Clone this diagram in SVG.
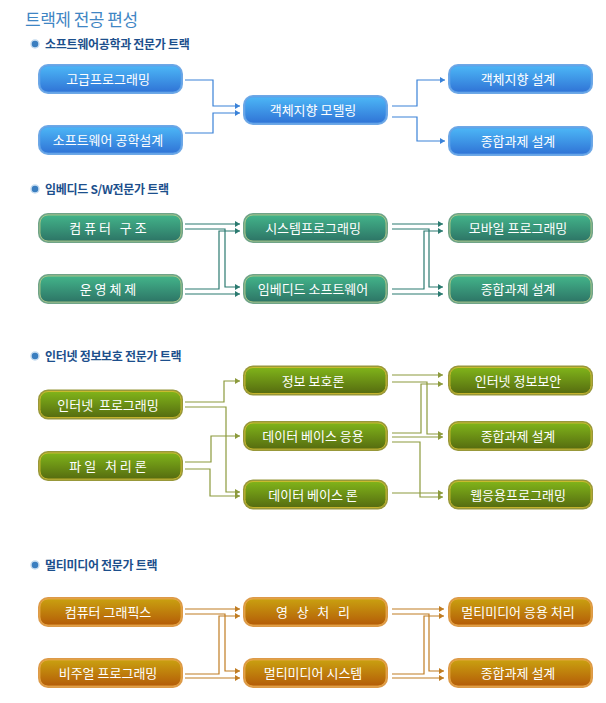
<svg xmlns="http://www.w3.org/2000/svg" width="606" height="703" viewBox="0 0 606 703">
<style>
.t{font-family:"Noto Sans CJK KR","Noto Sans",sans-serif;font-size:13px;fill:#ffffff;text-anchor:middle;white-space:pre}
.h{font-family:"Noto Sans CJK KR","Noto Sans",sans-serif;font-size:12px;font-weight:bold;letter-spacing:-0.3px}
.c{fill:none;stroke-width:1.2}
.cb{stroke:#3a82d8}
.cg{stroke:#2b7a70}
.co{stroke:#8c9a3c}
.cr{stroke:#c07c22}
</style>
<defs>
<linearGradient id="gb" x1="0" y1="0" x2="0" y2="1"><stop offset="0" stop-color="#4cb6f6"/><stop offset="1" stop-color="#3074d6"/></linearGradient>
<linearGradient id="gg" x1="0" y1="0" x2="0" y2="1"><stop offset="0" stop-color="#43b48a"/><stop offset="1" stop-color="#2d7566"/></linearGradient>
<linearGradient id="go" x1="0" y1="0" x2="0" y2="1"><stop offset="0" stop-color="#80b41a"/><stop offset="1" stop-color="#566c10"/></linearGradient>
<linearGradient id="gr" x1="0" y1="0" x2="0" y2="1"><stop offset="0" stop-color="#c9a010"/><stop offset="1" stop-color="#b45c08"/></linearGradient>
<marker id="ab" markerWidth="6" markerHeight="6" refX="5" refY="3" orient="auto" markerUnits="userSpaceOnUse"><path d="M0,0 L5,3 L0,6 z" fill="#3a82d8"/></marker>
<marker id="ag" markerWidth="6" markerHeight="6" refX="5" refY="3" orient="auto" markerUnits="userSpaceOnUse"><path d="M0,0 L5,3 L0,6 z" fill="#2b7a70"/></marker>
<marker id="ao" markerWidth="6" markerHeight="6" refX="5" refY="3" orient="auto" markerUnits="userSpaceOnUse"><path d="M0,0 L5,3 L0,6 z" fill="#8c9a3c"/></marker>
<marker id="ar" markerWidth="6" markerHeight="6" refX="5" refY="3" orient="auto" markerUnits="userSpaceOnUse"><path d="M0,0 L5,3 L0,6 z" fill="#c07c22"/></marker>
<symbol id="btnb" viewBox="0 0 145 30" overflow="visible"><rect x="0" y="0" width="145" height="30" rx="10" fill="#6ea8e6"/><rect x="2" y="2" width="141" height="26" rx="8" fill="url(#gb)" stroke="#5aa0e8" stroke-width="0.8"/></symbol>
<symbol id="btng" viewBox="0 0 145 30" overflow="visible"><rect x="0" y="0" width="145" height="30" rx="10" fill="#6fa488"/><rect x="2" y="2" width="141" height="26" rx="8" fill="url(#gg)" stroke="#b8cc88" stroke-width="0.8"/></symbol>
<symbol id="btno" viewBox="0 0 145 30" overflow="visible"><rect x="0" y="0" width="145" height="30" rx="10" fill="#98983a"/><rect x="2" y="2" width="141" height="26" rx="8" fill="url(#go)" stroke="#d8c030" stroke-width="0.8"/></symbol>
<symbol id="btnr" viewBox="0 0 145 30" overflow="visible"><rect x="0" y="0" width="145" height="30" rx="10" fill="#dc9a48"/><rect x="2" y="2" width="141" height="26" rx="8" fill="url(#gr)" stroke="#eaa848" stroke-width="0.8"/></symbol>
</defs>
<rect width="606" height="703" fill="#ffffff"/>
<text x="25" y="26" font-family="'Noto Sans CJK KR','Noto Sans',sans-serif" font-size="17" letter-spacing="-0.5" fill="#3f86c4">트랙제 전공 편성</text>

<g id="headers">
<circle cx="35" cy="44" r="4" fill="#3a7ec0" stroke="#c6dcf0" stroke-width="1.5"/>
<text class="h" x="45" y="48.5" fill="#1c4f8c">소프트웨어공학과 전문가 트랙</text>
<circle cx="35" cy="189" r="4" fill="#3a7ec0" stroke="#c6dcf0" stroke-width="1.5"/>
<text class="h" x="45" y="193.5" fill="#1c4f8c">임베디드 S/W전문가 트랙</text>
<circle cx="35" cy="356" r="4" fill="#3a7ec0" stroke="#c6dcf0" stroke-width="1.5"/>
<text class="h" x="45" y="360.5" fill="#1c4f8c">인터넷 정보보호 전문가 트랙</text>
<circle cx="35" cy="565" r="4" fill="#3a7ec0" stroke="#c6dcf0" stroke-width="1.5"/>
<text class="h" x="45" y="569.5" fill="#1c4f8c">멀티미디어 전문가 트랙</text>
</g>

<g id="connectors">
<g class="c cb">
<path d="M185,80 H213 V106 H240" marker-end="url(#ab)"/>
<path d="M185,133 H213 V113 H240" marker-end="url(#ab)"/>
<path d="M392,106 H417 V80 H445" marker-end="url(#ab)"/>
<path d="M392,117 H417 V141 H445" marker-end="url(#ab)"/>
</g>
<g class="c cg">
<path d="M185,224 H240" marker-end="url(#ag)"/>
<path d="M185,229 H225 V287 H240" marker-end="url(#ag)"/>
<path d="M185,289 H219 V231 H240" marker-end="url(#ag)"/>
<path d="M185,294 H240" marker-end="url(#ag)"/>
<path d="M392,224 H443" marker-end="url(#ag)"/>
<path d="M392,229 H429 V287 H443" marker-end="url(#ag)"/>
<path d="M392,289 H424 V231 H443" marker-end="url(#ag)"/>
<path d="M392,294 H443" marker-end="url(#ag)"/>
</g>
<g class="c co">
<path d="M185,402 H224 V381 H240" marker-end="url(#ao)"/>
<path d="M185,407 H226 V492 H240" marker-end="url(#ao)"/>
<path d="M185,462 H211 V436 H240" marker-end="url(#ao)"/>
<path d="M185,469 H210 V496 H240" marker-end="url(#ao)"/>
<path d="M392,375 H443" marker-end="url(#ao)"/>
<path d="M392,382 H427 V434 H443" marker-end="url(#ao)"/>
<path d="M392,433 H421 V384 H443" marker-end="url(#ao)"/>
<path d="M392,437 H443" marker-end="url(#ao)"/>
<path d="M392,442 H420 V497 H443" marker-end="url(#ao)"/>
<path d="M392,493 H443" marker-end="url(#ao)"/>
</g>
<g class="c cr">
<path d="M185,609 H240" marker-end="url(#ar)"/>
<path d="M185,614 H225 V671 H240" marker-end="url(#ar)"/>
<path d="M185,674 H219 V616 H240" marker-end="url(#ar)"/>
<path d="M185,678 H240" marker-end="url(#ar)"/>
<path d="M392,609 H444" marker-end="url(#ar)"/>
<path d="M392,614 H429 V671 H444" marker-end="url(#ar)"/>
<path d="M392,674 H424 V616 H444" marker-end="url(#ar)"/>
<path d="M392,678 H444" marker-end="url(#ar)"/>
</g>
</g>

<g id="n-sw1"><use href="#btnb" x="38" y="64" width="145" height="30"/><text class="t" x="108" y="83.5">고급프로그래밍</text></g>
<g id="n-sw2"><use href="#btnb" x="38" y="125" width="145" height="30"/><text class="t" x="108" y="144.5">소프트웨어 공학설계</text></g>
<g id="n-sw3"><use href="#btnb" x="243" y="95" width="145" height="30"/><text class="t" x="313" y="114.5">객체지향 모델링</text></g>
<g id="n-sw4"><use href="#btnb" x="448" y="64" width="145" height="30"/><text class="t" x="518" y="83.5">객체지향 설계</text></g>
<g id="n-sw5"><use href="#btnb" x="448" y="126" width="145" height="30"/><text class="t" x="518" y="145.5">종합과제 설계</text></g>

<g id="n-em1"><use href="#btng" x="38" y="213" width="145" height="30"/><text class="t" x="108" y="232.5">컴 퓨 터   구 조</text></g>
<g id="n-em2"><use href="#btng" x="38" y="274" width="145" height="30"/><text class="t" x="108" y="293.5">운 영 체 제</text></g>
<g id="n-em3"><use href="#btng" x="243" y="213" width="145" height="30"/><text class="t" x="313" y="232.5">시스템프로그래밍</text></g>
<g id="n-em4"><use href="#btng" x="243" y="274" width="145" height="30"/><text class="t" x="313" y="293.5">임베디드 소프트웨어</text></g>
<g id="n-em5"><use href="#btng" x="448" y="213" width="145" height="30"/><text class="t" x="518" y="232.5">모바일 프로그래밍</text></g>
<g id="n-em6"><use href="#btng" x="448" y="274" width="145" height="30"/><text class="t" x="518" y="293.5">종합과제 설계</text></g>

<g id="n-in1"><use href="#btno" x="38" y="389" width="145" height="31"/><text class="t" x="108" y="409.5">인터넷  프로그래밍</text></g>
<g id="n-in2"><use href="#btno" x="38" y="451" width="145" height="30"/><text class="t" x="108" y="470.5">파 일   처 리 론</text></g>
<g id="n-in3"><use href="#btno" x="243" y="365" width="145" height="31"/><text class="t" x="313" y="385.5">정보 보호론</text></g>
<g id="n-in4"><use href="#btno" x="243" y="421" width="145" height="30"/><text class="t" x="313" y="440.5">데이터 베이스 응용</text></g>
<g id="n-in5"><use href="#btno" x="243" y="479" width="145" height="31"/><text class="t" x="313" y="499.5">데이터 베이스 론</text></g>
<g id="n-in6"><use href="#btno" x="448" y="365" width="145" height="31"/><text class="t" x="518" y="385.5">인터넷 정보보안</text></g>
<g id="n-in7"><use href="#btno" x="448" y="421" width="145" height="30"/><text class="t" x="518" y="440.5">종합과제 설계</text></g>
<g id="n-in8"><use href="#btno" x="448" y="479" width="145" height="31"/><text class="t" x="518" y="499.5">웹응용프로그래밍</text></g>

<g id="n-mm1"><use href="#btnr" x="38" y="597" width="145" height="30"/><text class="t" x="108" y="616.5">컴퓨터 그래픽스</text></g>
<g id="n-mm2"><use href="#btnr" x="38" y="658" width="145" height="30"/><text class="t" x="108" y="677.5">비주얼 프로그래밍</text></g>
<g id="n-mm3"><use href="#btnr" x="243" y="597" width="145" height="30"/><text class="t" x="313" y="616.5">영   상   처   리</text></g>
<g id="n-mm4"><use href="#btnr" x="243" y="658" width="145" height="30"/><text class="t" x="313" y="677.5">멀티미디어 시스템</text></g>
<g id="n-mm5"><use href="#btnr" x="448" y="597" width="145" height="30"/><text class="t" x="518" y="616.5">멀티미디어 응용 처리</text></g>
<g id="n-mm6"><use href="#btnr" x="448" y="658" width="145" height="30"/><text class="t" x="518" y="677.5">종합과제 설계</text></g>
</svg>
